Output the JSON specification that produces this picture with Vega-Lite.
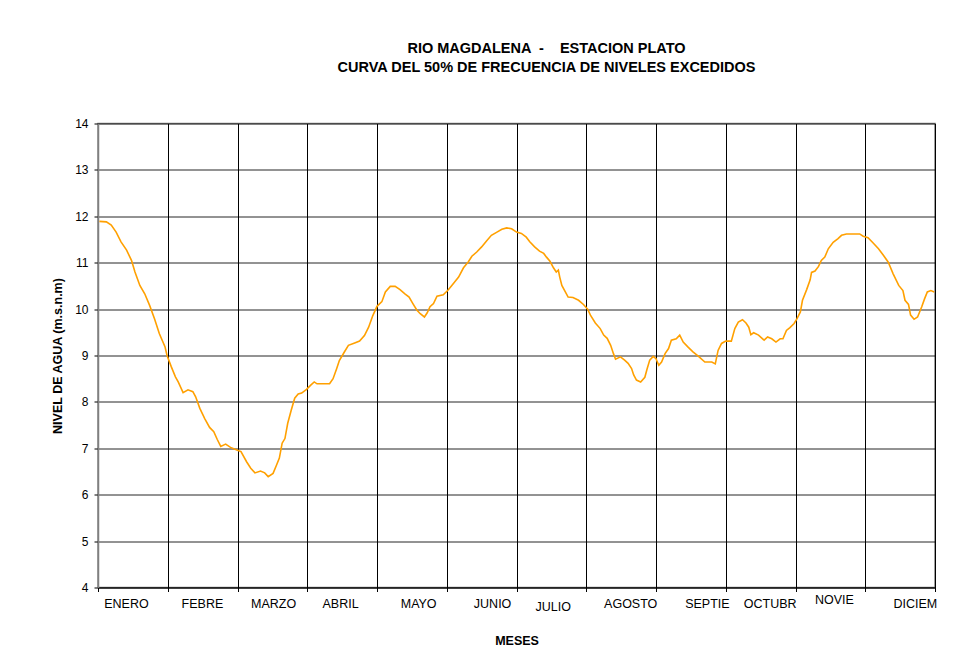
{
  "$schema": "https://vega.github.io/schema/vega-lite/v6.json",
  "autosize": {"type": "none"},
  "width": 837,
  "height": 464,
  "padding": {"left": 98, "top": 123.5, "right": 35, "bottom": 69.5},
  "background": "white",
  "title": {
    "text": ["RIO MAGDALENA  \u00a0-\u00a0 \u00a0 ESTACION PLATO", "CURVA DEL 50% DE FRECUENCIA DE NIVELES EXCEDIDOS"],
    "font": "Liberation Sans",
    "fontSize": 14.5,
    "fontWeight": "bold",
    "color": "black",
    "lineHeight": 19.5,
    "anchor": "middle",
    "dx": 30,
    "offset": 42
  },
  "config": {
    "view": {"stroke": "#808080", "strokeWidth": 1.5},
    "axis": {"labelFont": "Liberation Sans", "titleFont": "Liberation Sans", "labelColor": "black", "titleColor": "black"}
  },
  "data": {"values": [
    {"m":0.02,"v":11.89},{"m":0.12,"v":11.88},{"m":0.19,"v":11.81},{"m":0.26,"v":11.66},{"m":0.33,"v":11.45},
    {"m":0.41,"v":11.27},{"m":0.48,"v":11.05},{"m":0.53,"v":10.80},{"m":0.60,"v":10.51},{"m":0.67,"v":10.33},
    {"m":0.74,"v":10.08},{"m":0.81,"v":9.79},{"m":0.88,"v":9.47},{"m":0.96,"v":9.19},{"m":0.99,"v":9.00},
    {"m":1.05,"v":8.76},{"m":1.11,"v":8.54},{"m":1.15,"v":8.43},{"m":1.22,"v":8.20},{"m":1.29,"v":8.26},
    {"m":1.36,"v":8.22},{"m":1.40,"v":8.11},{"m":1.46,"v":7.86},{"m":1.53,"v":7.64},{"m":1.60,"v":7.45},
    {"m":1.66,"v":7.36},{"m":1.71,"v":7.19},{"m":1.76,"v":7.04},{"m":1.83,"v":7.09},{"m":1.90,"v":7.02},
    {"m":2.00,"v":6.96},{"m":2.05,"v":6.93},{"m":2.13,"v":6.71},{"m":2.19,"v":6.57},{"m":2.25,"v":6.47},
    {"m":2.33,"v":6.51},{"m":2.39,"v":6.47},{"m":2.44,"v":6.39},{"m":2.51,"v":6.46},{"m":2.56,"v":6.64},
    {"m":2.60,"v":6.79},{"m":2.64,"v":7.11},{"m":2.68,"v":7.21},{"m":2.72,"v":7.54},{"m":2.77,"v":7.82},
    {"m":2.82,"v":8.08},{"m":2.87,"v":8.17},{"m":2.92,"v":8.19},{"m":2.99,"v":8.27},{"m":3.05,"v":8.36},
    {"m":3.10,"v":8.43},{"m":3.14,"v":8.39},{"m":3.32,"v":8.39},{"m":3.37,"v":8.50},{"m":3.42,"v":8.71},
    {"m":3.46,"v":8.89},{"m":3.53,"v":9.07},{"m":3.59,"v":9.22},{"m":3.68,"v":9.27},{"m":3.75,"v":9.31},
    {"m":3.82,"v":9.43},{"m":3.88,"v":9.61},{"m":3.94,"v":9.86},{"m":4.00,"v":10.06},{"m":4.07,"v":10.16},
    {"m":4.12,"v":10.37},{"m":4.19,"v":10.49},{"m":4.26,"v":10.49},{"m":4.33,"v":10.42},{"m":4.40,"v":10.33},
    {"m":4.46,"v":10.26},{"m":4.51,"v":10.13},{"m":4.57,"v":9.98},{"m":4.62,"v":9.90},{"m":4.68,"v":9.83},
    {"m":4.72,"v":9.92},{"m":4.76,"v":10.05},{"m":4.81,"v":10.12},{"m":4.86,"v":10.28},{"m":4.95,"v":10.31},
    {"m":5.02,"v":10.41},{"m":5.09,"v":10.54},{"m":5.17,"v":10.69},{"m":5.24,"v":10.89},{"m":5.31,"v":11.02},
    {"m":5.36,"v":11.14},{"m":5.43,"v":11.23},{"m":5.50,"v":11.34},{"m":5.57,"v":11.47},{"m":5.64,"v":11.59},
    {"m":5.72,"v":11.66},{"m":5.79,"v":11.72},{"m":5.86,"v":11.75},{"m":5.93,"v":11.73},{"m":6.00,"v":11.66},
    {"m":6.07,"v":11.63},{"m":6.14,"v":11.55},{"m":6.19,"v":11.45},{"m":6.26,"v":11.34},{"m":6.33,"v":11.25},
    {"m":6.39,"v":11.20},{"m":6.43,"v":11.12},{"m":6.48,"v":11.03},{"m":6.53,"v":10.89},{"m":6.57,"v":10.80},
    {"m":6.60,"v":10.84},{"m":6.62,"v":10.69},{"m":6.65,"v":10.51},{"m":6.70,"v":10.37},{"m":6.74,"v":10.26},
    {"m":6.81,"v":10.25},{"m":6.89,"v":10.19},{"m":6.96,"v":10.10},{"m":7.02,"v":10.00},{"m":7.06,"v":9.87},
    {"m":7.13,"v":9.70},{"m":7.20,"v":9.58},{"m":7.25,"v":9.44},{"m":7.30,"v":9.37},{"m":7.35,"v":9.22},
    {"m":7.39,"v":9.04},{"m":7.42,"v":8.92},{"m":7.49,"v":8.97},{"m":7.55,"v":8.90},{"m":7.60,"v":8.83},
    {"m":7.65,"v":8.72},{"m":7.68,"v":8.58},{"m":7.72,"v":8.47},{"m":7.78,"v":8.43},{"m":7.84,"v":8.53},
    {"m":7.87,"v":8.70},{"m":7.91,"v":8.90},{"m":7.96,"v":8.98},{"m":8.00,"v":8.93},{"m":8.04,"v":8.79},
    {"m":8.08,"v":8.86},{"m":8.13,"v":9.04},{"m":8.18,"v":9.15},{"m":8.22,"v":9.33},{"m":8.29,"v":9.36},
    {"m":8.34,"v":9.44},{"m":8.39,"v":9.29},{"m":8.46,"v":9.18},{"m":8.53,"v":9.08},{"m":8.61,"v":8.98},
    {"m":8.70,"v":8.86},{"m":8.80,"v":8.86},{"m":8.85,"v":8.82},{"m":8.89,"v":9.11},{"m":8.94,"v":9.26},
    {"m":9.00,"v":9.31},{"m":9.08,"v":9.31},{"m":9.13,"v":9.58},{"m":9.18,"v":9.72},{"m":9.24,"v":9.77},
    {"m":9.29,"v":9.70},{"m":9.33,"v":9.61},{"m":9.36,"v":9.45},{"m":9.40,"v":9.49},{"m":9.47,"v":9.44},
    {"m":9.55,"v":9.33},{"m":9.60,"v":9.40},{"m":9.66,"v":9.36},{"m":9.72,"v":9.29},{"m":9.78,"v":9.36},
    {"m":9.82,"v":9.36},{"m":9.87,"v":9.54},{"m":9.92,"v":9.60},{"m":9.98,"v":9.69},{"m":10.02,"v":9.79},
    {"m":10.07,"v":9.94},{"m":10.10,"v":10.19},{"m":10.16,"v":10.42},{"m":10.21,"v":10.63},{"m":10.23,"v":10.79},
    {"m":10.28,"v":10.82},{"m":10.33,"v":10.92},{"m":10.37,"v":11.05},{"m":10.42,"v":11.12},{"m":10.47,"v":11.30},
    {"m":10.54,"v":11.44},{"m":10.61,"v":11.52},{"m":10.66,"v":11.59},{"m":10.73,"v":11.62},{"m":10.83,"v":11.62},
    {"m":10.92,"v":11.62},{"m":10.97,"v":11.57},{"m":11.04,"v":11.54},{"m":11.11,"v":11.43},{"m":11.19,"v":11.30},
    {"m":11.26,"v":11.16},{"m":11.33,"v":11.01},{"m":11.40,"v":10.76},{"m":11.48,"v":10.51},{"m":11.54,"v":10.40},
    {"m":11.57,"v":10.19},{"m":11.62,"v":10.10},{"m":11.65,"v":9.87},{"m":11.70,"v":9.78},{"m":11.75,"v":9.83},
    {"m":11.81,"v":10.05},{"m":11.85,"v":10.22},{"m":11.89,"v":10.37},{"m":11.94,"v":10.40},{"m":11.99,"v":10.37}
  ]},
  "resolve": {"axis": {"x": "independent", "y": "independent"}},
  "layer": [
    {
      "mark": {"type": "line", "color": "#FFA000", "strokeWidth": 1.6, "interpolate": "linear"},
      "encoding": {
        "x": {
          "field": "m", "type": "quantitative",
          "scale": {"domain": [0, 12], "nice": false, "zero": false},
          "axis": {
            "orient": "bottom",
            "values": [0,1,2,3,4,5,6,7,8,9,10,11,12],
            "labels": false, "title": null,
            "grid": true, "gridColor": "black", "gridWidth": 1, "gridOpacity": 1,
            "domainColor": "black", "domainWidth": 1.2,
            "ticks": true, "tickColor": "black", "tickSize": 4, "tickWidth": 1
          }
        },
        "y": {
          "field": "v", "type": "quantitative",
          "scale": {"domain": [4, 14], "nice": false, "zero": false},
          "axis": {
            "orient": "left",
            "values": [4,5,6,7,8,9,10,11,12,13,14],
            "title": "NIVEL DE AGUA (m.s.n.m)",
            "titleFontSize": 12.5, "titleFontWeight": "bold", "titlePadding": 10,
            "labelFontSize": 12, "labelPadding": 6,
            "grid": true, "gridColor": "black", "gridWidth": 1, "gridOpacity": 0.85,
            "domainColor": "#808080", "domainWidth": 1.5,
            "tickColor": "black", "tickSize": 4, "tickWidth": 1
          }
        }
      }
    },
    {
      "mark": {"type": "line", "opacity": 0},
      "encoding": {
        "x": {
          "field": "m", "type": "quantitative",
          "scale": {"domain": [0, 12], "nice": false, "zero": false},
          "axis": {
            "orient": "bottom",
            "values": [0.40, 1.49, 2.51, 3.47, 4.59, 5.65, 6.52, 7.63, 8.73, 9.63, 10.55, 11.71],
            "labelExpr": "['ENERO','FEBRE','MARZO','ABRIL','MAYO','JUNIO','JULIO','AGOSTO','SEPTIE','OCTUBR','NOVIE','DICIEM'][floor(datum.value)]",
            "labelFontSize": 12.5,
            "labelPadding": {"condition": [{"test": "floor(datum.value) == 6", "value": 13}, {"test": "floor(datum.value) == 10", "value": 6}], "value": 10},
            "labelFlush": false, "labelOverlap": false,
            "ticks": false, "tickSize": 0, "domain": false, "grid": false,
            "title": "MESES", "titleFontSize": 12.5, "titleFontWeight": "bold", "titlePadding": 21
          }
        },
        "y": {
          "field": "v", "type": "quantitative",
          "scale": {"domain": [4, 14], "nice": false, "zero": false},
          "axis": null
        }
      }
    }
  ]
}
